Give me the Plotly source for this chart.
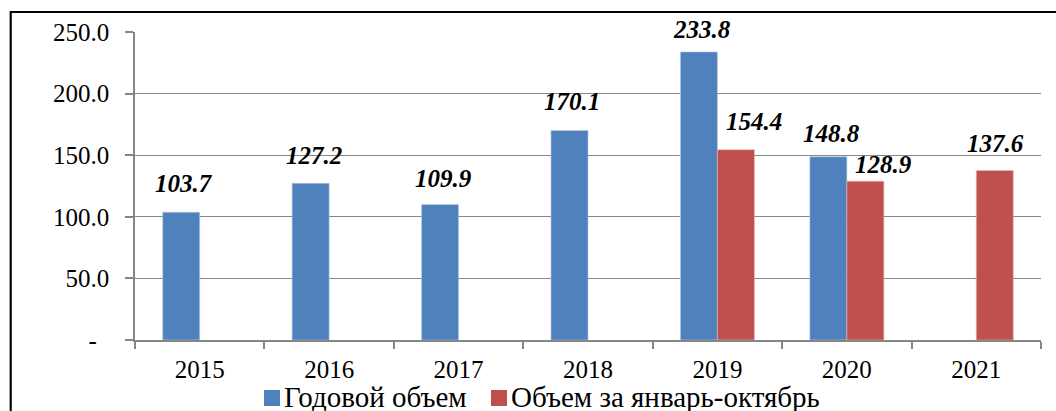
import plotly.graph_objects as go

# Chart data
years = ["2015", "2016", "2017", "2018", "2019", "2020", "2021"]
annual_volume = [103.7, 127.2, 109.9, 170.1, 233.8, 148.8, None]
jan_oct_volume = [None, None, None, None, 154.4, 128.9, 137.6]
y_tick_values = [0, 50, 100, 150, 200, 250]
y_tick_labels = ["-\u00a0\u00a0", "50.0", "100.0", "150.0", "200.0", "250.0"]
series_names = ["Годовой объем", "Объем за январь-октябрь"]

# Styling
BLUE = "#4F81BD"
RED = "#C0504D"
GRID = "#868686"
FONT = "Liberation Serif"
BAR_GAP = 0.428

# Fine adjustments (pixels) for individual value labels: (dx, dy)
annual_label_nudge = [(3, 13), (3, 12), (3, 11), (3, 13), (3, 7), (3, 8), (0, 0)]
jan_oct_label_nudge = [(0, 0), (0, 0), (0, 0), (0, 0), (18, 13), (18, 1), (1, 11)]

W, H = 1056, 411
ML, MR, MT, MB = 135, 15, 32, 71
PW, PH = W - ML - MR, H - MT - MB

fig = go.Figure()
fig.add_trace(go.Bar(x=years, y=annual_volume, name=series_names[0],
                     marker=dict(color=BLUE, line=dict(color="#B8CCE4", width=0.6))))
fig.add_trace(go.Bar(x=years, y=jan_oct_volume, name=series_names[1],
                     marker=dict(color=RED, line=dict(color="#E6B9B8", width=0.6))))

# Value labels above each bar
half = (1 - BAR_GAP) / 4
annotations = []
for series, offset, nudges in ((annual_volume, -half, annual_label_nudge),
                               (jan_oct_volume, half, jan_oct_label_nudge)):
    for i, v in enumerate(series):
        if v is None:
            continue
        dx, dy = nudges[i]
        annotations.append(dict(
            x=i + offset, y=v, xref="x", yref="y", text=f"<b><i>{v:.1f}</i></b>",
            showarrow=False, yanchor="bottom", xanchor="center",
            xshift=dx, yshift=dy,
            font=dict(family=FONT, size=25, color="black"),
        ))

# Legend drawn as coloured squares with captions under the axis
def px_x(p):
    return (p - ML) / PW

def px_y(p):
    return (H - MB - p) / PH

shapes = []
legend_items = [(264, BLUE, series_names[0]), (491, RED, series_names[1])]
for x0, col, name in legend_items:
    shapes.append(dict(type="rect", xref="paper", yref="paper",
                       x0=px_x(x0), x1=px_x(x0 + 16), y0=px_y(406), y1=px_y(390),
                       fillcolor=col, line=dict(width=0)))
    annotations.append(dict(x=px_x(x0 + 18), y=px_y(397), xref="paper", yref="paper",
                            text=name, showarrow=False, xanchor="left", yanchor="middle",
                            font=dict(family=FONT, size=29, color="black")))

# Outer frame (left and top edges)
shapes.append(dict(type="path", xref="paper", yref="paper",
                   path=f"M {px_x(10.7)},{px_y(420)} L {px_x(10.7)},{px_y(12)} L {px_x(1070)},{px_y(12)}",
                   line=dict(color="black", width=2.2)))

fig.update_layout(
    width=W, height=H,
    margin=dict(l=ML, r=MR, t=MT, b=MB, pad=0),
    paper_bgcolor="white", plot_bgcolor="white",
    barmode="group", bargap=BAR_GAP, bargroupgap=0,
    showlegend=False,
    font=dict(family=FONT, size=25, color="black"),
    annotations=annotations, shapes=shapes,
)
fig.update_xaxes(
    type="category", showline=True, linecolor=GRID, linewidth=1.5,
    ticks="outside", tickson="boundaries", ticklen=7, tickcolor=GRID, tickwidth=1.5,
    showgrid=False, ticklabelstandoff=6,
    tickfont=dict(family=FONT, size=25, color="black"),
)
fig.update_yaxes(
    range=[0, 250], tickvals=y_tick_values, ticktext=y_tick_labels,
    showline=True, linecolor=GRID, linewidth=1.5,
    ticks="outside", ticklen=8, tickcolor=GRID, tickwidth=1.5,
    showgrid=True, gridcolor=GRID, gridwidth=1.2, zeroline=False,
    ticklabelstandoff=11,
    tickfont=dict(family=FONT, size=25, color="black"),
)

fig.write_html("out.html")
